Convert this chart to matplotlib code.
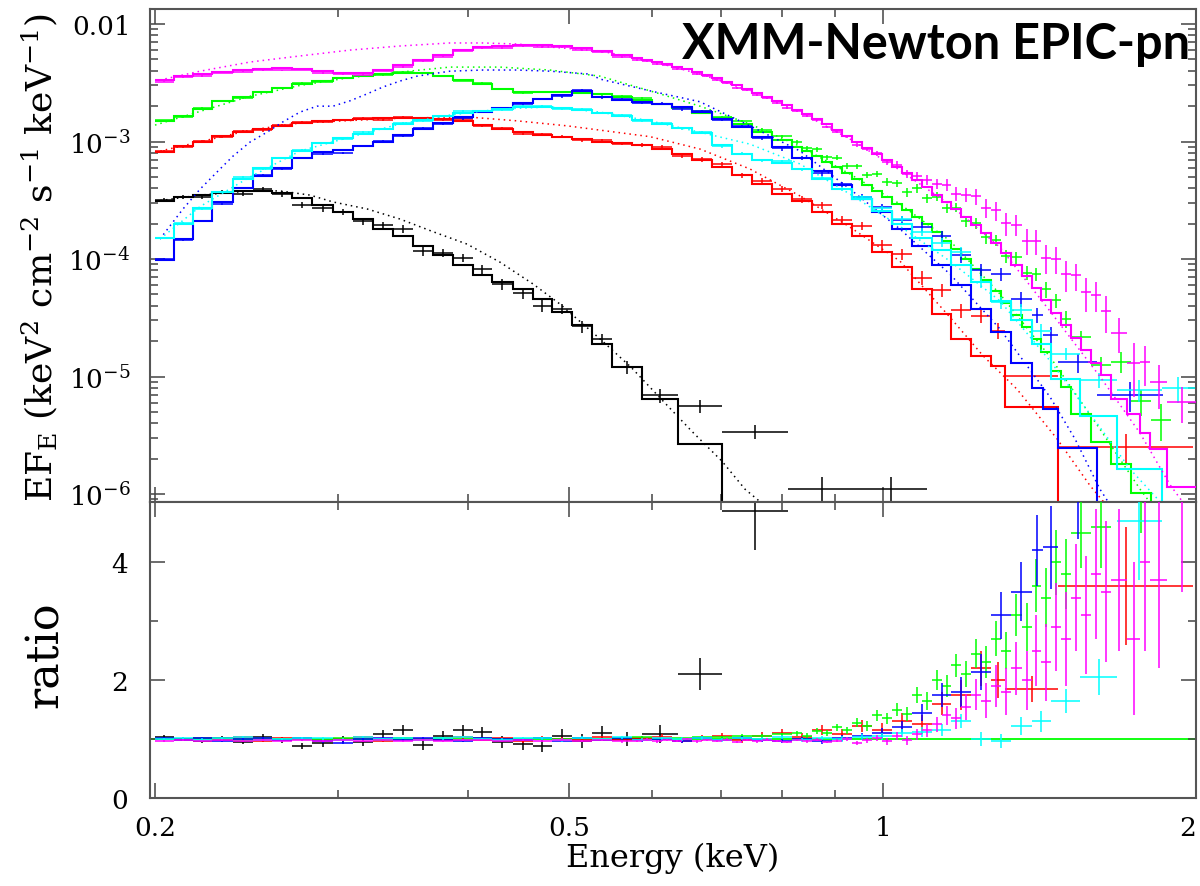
import numpy as np
import matplotlib
matplotlib.use("Agg")
import matplotlib.pyplot as plt
from matplotlib.ticker import FixedLocator, NullFormatter, FuncFormatter

plt.rcParams['font.family'] = ['DejaVu Serif']
plt.rcParams['mathtext.fontset'] = 'dejavuserif'

# ---------------- data ----------------
GRID_EDGES = [0.2000, 0.2084, 0.2173, 0.2269, 0.2374, 0.2484, 0.2593, 0.2707, 0.2833, 0.2965,
              0.3096, 0.3236, 0.3386, 0.3535, 0.3695, 0.3866, 0.4037, 0.4215, 0.4411, 0.4610,
              0.4813, 0.5031, 0.5258, 0.5496, 0.5744, 0.6004, 0.6276, 0.6561, 0.6857, 0.7167,
              0.7491, 0.7830, 0.8184, 0.8554, 0.8940, 0.9344, 0.9770, 1.0210, 1.0672, 1.1154,
              1.1644, 1.2171, 1.2721, 1.3296, 1.3900, 1.4512, 1.5168, 1.5854, 1.6570, 1.7320,
              1.8103, 1.8921, 1.9780]

# black
black_n_grid = 23
black_extra_edges = [0.587, 0.636, 0.701, 0.811, 0.941, 1.103]
black_model = [3.1e-4, 3.35e-4, 3.5e-4, 3.65e-4, 3.8e-4, 3.8e-4, 3.65e-4, 3.3e-4, 2.9e-4, 2.5e-4,
               2.2e-4, 1.8e-4, 1.57e-4, 1.3e-4, 1.08e-4, 8.9e-5, 7.3e-5, 6.4e-5, 5.56e-5, 4.57e-5,
               3.55e-5, 2.75e-5, 1.89e-5, 1.2e-5, 6.4e-6, 2.67e-6, 7.0e-7, 1.0e-7, 1.0e-7]
black_ratio = [1.03, 1.00, 0.97, 1.02, 0.95, 1.03, 0.98, 0.88, 0.93, 1.00,
               0.95, 1.08, 1.15, 0.90, 1.05, 1.15, 1.12, 0.95, 0.92, 0.88,
               1.06, 0.97, 1.10, 1.00, 1.08, 2.10, 4.86, 11.0, 11.0]
black_ratio_err = [0.04, 0.04, 0.04, 0.04, 0.04, 0.05, 0.05, 0.05, 0.06, 0.06,
                   0.07, 0.07, 0.08, 0.08, 0.08, 0.09, 0.09, 0.10, 0.10, 0.10,
                   0.11, 0.12, 0.12, 0.12, 0.15, 0.27, 0.65, 3.0, 3.0]
black_comp_energy = [0.200, 0.221, 0.2468, 0.2637, 0.2818, 0.2965, 0.3196, 0.3438, 0.3698, 0.3988,
                     0.429, 0.4615, 0.4898, 0.5352, 0.5732, 0.6126, 0.6561, 0.701, 0.7375, 0.7625, 0.79]
black_comp_flux = [3.1e-4, 3.5e-4, 3.8e-4, 3.8e-4, 3.5e-4, 3.06e-4, 2.67e-4, 2.19e-4, 1.71e-4, 1.34e-4,
                   9.4e-5, 6.13e-5, 4.14e-5, 2.09e-5, 1.2e-5, 6.44e-6, 3.4e-6, 1.9e-6, 1.1e-6, 8.6e-7, 6.5e-7]

# red
red_n_grid = 42
red_extra_edges = [1.311, 1.474, 1.987]
red_model = [8.2e-4, 9.1e-4, 1.0e-3, 1.11e-3, 1.2e-3, 1.28e-3, 1.36e-3, 1.44e-3, 1.5e-3, 1.52e-3,
             1.55e-3, 1.58e-3, 1.58e-3, 1.58e-3, 1.55e-3, 1.5e-3, 1.38e-3, 1.28e-3, 1.2e-3, 1.13e-3,
             1.1e-3, 1.05e-3, 1.0e-3, 9.7e-4, 9.3e-4, 8.63e-4, 7.8e-4, 6.9e-4, 6.1e-4, 5.2e-4,
             4.35e-4, 3.6e-4, 3.1e-4, 2.5e-4, 2.0e-4, 1.57e-4, 1.14e-4, 8.5e-5, 5.56e-5, 3.4e-5,
             2.09e-5, 1.5e-5, 1.23e-5, 5.5e-6, 7.0e-7]
red_ratio = [1.02, 0.98, 1.01, 0.99, 1.03, 0.97, 1.01, 1.02, 0.98, 1.00,
             1.03, 0.97, 1.02, 1.00, 0.98, 1.03, 0.99, 1.01, 0.97, 1.02,
             1.00, 0.98, 1.03, 0.99, 1.01, 1.04, 0.97, 1.02, 1.05, 0.99,
             1.06, 1.10, 1.04, 1.15, 1.08, 1.22, 1.15, 1.30, 1.25, 1.60,
             1.75, 2.20, 2.00, 1.85, 3.60]
red_ratio_err = [0.02, 0.02, 0.02, 0.02, 0.02, 0.02, 0.02, 0.02, 0.02, 0.02,
                 0.02, 0.02, 0.02, 0.02, 0.02, 0.03, 0.03, 0.03, 0.03, 0.03,
                 0.03, 0.03, 0.03, 0.03, 0.04, 0.04, 0.04, 0.05, 0.05, 0.05,
                 0.06, 0.07, 0.07, 0.08, 0.09, 0.10, 0.12, 0.14, 0.16, 0.20,
                 0.25, 0.30, 0.30, 0.22, 1.00]
red_comp_energy = [0.200, 0.2468, 0.2756, 0.3438, 0.3988, 0.4454, 0.4976, 0.5352, 0.5978, 0.6676,
                   0.7456, 0.833, 0.9302, 1.039, 1.1604, 1.2488, 1.346, 1.471, 1.582, 1.653]
red_comp_flux = [8.1e-4, 1.25e-3, 1.44e-3, 1.58e-3, 1.62e-3, 1.5e-3, 1.36e-3, 1.25e-3, 1.1e-3, 8.63e-4,
                 5.84e-4, 3.44e-4, 1.87e-4, 9.6e-5, 3.2e-5, 1.5e-5, 7.8e-6, 2.94e-6, 1.18e-6, 7.4e-7]

# green (finer bins between 0.82 and 1.52 keV)
green_n_grid = 32
green_extra_edges = [0.8367, 0.8554, 0.8745, 0.8940, 0.9140, 0.9344, 0.9555, 0.9770, 0.9988, 1.0210,
                     1.0438, 1.0672, 1.0910, 1.1154, 1.1396, 1.1644, 1.1904, 1.2171, 1.2443, 1.2721,
                     1.3006, 1.3296, 1.3595, 1.3900, 1.4203, 1.4512, 1.4837, 1.5168,
                     1.5854, 1.6570, 1.7320, 1.8103, 1.8921]
green_model = [1.5e-3, 1.64e-3, 1.89e-3, 2.2e-3, 2.4e-3, 2.63e-3, 2.85e-3, 3.09e-3, 3.27e-3, 3.45e-3,
               3.6e-3, 3.75e-3, 3.83e-3, 3.83e-3, 3.6e-3, 3.34e-3, 3.09e-3, 2.8e-3, 2.63e-3, 2.63e-3,
               2.63e-3, 2.58e-3, 2.54e-3, 2.4e-3, 2.26e-3, 2.09e-3, 1.93e-3, 1.75e-3, 1.58e-3, 1.41e-3,
               1.2e-3, 1.03e-3,
               8.98e-4, 8.30e-4, 7.53e-4, 6.69e-4, 6.07e-4, 5.40e-4, 4.80e-4, 4.26e-4, 3.79e-4, 3.37e-4,
               2.94e-4, 2.61e-4, 2.28e-4, 1.99e-4, 1.70e-4, 1.42e-4, 1.22e-4, 1.00e-4, 8.22e-5, 6.63e-5,
               5.34e-5, 4.22e-5, 3.34e-5, 2.64e-5, 2.08e-5, 1.62e-5, 1.11e-5, 8.14e-6,
               4.8e-6, 2.75e-6, 1.8e-6, 1.03e-6, 1.0e-7]
green_ratio = [1.01, 0.99, 1.02, 1.00, 0.98, 1.01, 1.00, 1.02, 0.99, 1.01,
               1.00, 0.98, 1.02, 1.00, 1.01, 0.99, 1.02, 1.00, 0.98, 1.01,
               1.00, 1.02, 0.99, 1.01, 1.03, 1.00, 1.02, 1.04, 1.03, 1.06,
               1.05, 1.08,
               1.10, 1.06, 1.14, 1.10, 1.20, 1.15, 1.28, 1.22, 1.40, 1.35,
               1.50, 1.42, 1.75, 1.65, 2.00, 1.90, 2.25, 2.10, 2.45, 2.30,
               2.70, 2.50, 3.10, 2.90, 3.60, 3.40, 4.00, 3.80,
               4.50, 4.60, 7.40, 6.00, 43.0]
green_ratio_err = [0.015, 0.015, 0.015, 0.015, 0.015, 0.015, 0.015, 0.015, 0.015, 0.015,
                   0.015, 0.015, 0.015, 0.015, 0.015, 0.015, 0.015, 0.015, 0.015, 0.015,
                   0.02, 0.02, 0.02, 0.02, 0.02, 0.02, 0.02, 0.02, 0.02, 0.02,
                   0.03, 0.03,
                   0.04, 0.04, 0.05, 0.05, 0.06, 0.06, 0.07, 0.08, 0.09, 0.10,
                   0.11, 0.12, 0.14, 0.15, 0.17, 0.18, 0.20, 0.22, 0.25, 0.27,
                   0.30, 0.32, 0.36, 0.40, 0.45, 0.50, 0.55, 0.60,
                   0.60, 0.70, 1.50, 1.50, 15.0]
green_comp_energy = [0.200, 0.2468, 0.2756, 0.3078, 0.3311, 0.3594, 0.384, 0.429, 0.479, 0.5352,
                     0.5978, 0.6676, 0.7456, 0.833, 0.9302, 1.039, 1.1604, 1.2962, 1.448, 1.617,
                     1.767, 1.827]
green_comp_flux = [1.38e-3, 2.43e-3, 3.0e-3, 3.5e-3, 3.75e-3, 4.06e-3, 4.3e-3, 4.3e-3, 4.06e-3, 3.6e-3,
                   2.7e-3, 2.0e-3, 1.41e-3, 9.1e-4, 5.29e-4, 2.94e-4, 1.43e-4, 5.04e-5, 1.47e-5, 3.57e-6,
                   1.1e-6, 7.4e-7]

# blue
blue_n_grid = 43
blue_extra_edges = [1.390, 1.426, 1.474, 1.607, 1.859]
blue_model = [9.8e-5, 1.48e-4, 2.1e-4, 3.05e-4, 4.0e-4, 5.1e-4, 6.0e-4, 7.2e-4, 8.1e-4, 8.5e-4,
              9.2e-4, 1.0e-3, 1.14e-3, 1.28e-3, 1.43e-3, 1.62e-3, 1.78e-3, 1.93e-3, 2.12e-3, 2.3e-3,
              2.5e-3, 2.7e-3, 2.4e-3, 2.26e-3, 2.18e-3, 2.09e-3, 1.97e-3, 1.78e-3, 1.55e-3, 1.33e-3,
              1.1e-3, 9.0e-4, 7.2e-4, 5.6e-4, 4.27e-4, 3.24e-4, 2.5e-4, 1.8e-4, 1.3e-4, 8.9e-5,
              6.0e-5, 3.75e-5, 2.4e-5, 1.3e-5, 8.0e-6, 5.3e-6, 2.45e-6, 1.0e-7]
blue_ratio = [1.02, 0.99, 1.01, 0.97, 1.00, 1.02, 0.98, 1.01, 0.96, 0.94,
              1.00, 1.02, 0.98, 1.01, 0.99, 0.97, 1.02, 1.00, 0.98, 1.01,
              0.97, 1.02, 0.99, 1.01, 0.98, 1.00, 0.96, 1.02, 0.99, 1.01,
              0.98, 0.97, 1.00, 0.96, 1.02, 1.05, 1.10, 1.20, 1.45, 1.75,
              1.80, 2.14, 3.10, 3.50, 4.20, 4.25, 5.40, 70.0]
blue_ratio_err = [0.02, 0.02, 0.02, 0.02, 0.02, 0.02, 0.02, 0.02, 0.02, 0.02,
                  0.02, 0.02, 0.02, 0.02, 0.02, 0.02, 0.02, 0.02, 0.02, 0.02,
                  0.025, 0.025, 0.025, 0.025, 0.025, 0.03, 0.03, 0.03, 0.03, 0.035,
                  0.035, 0.04, 0.04, 0.045, 0.05, 0.06, 0.08, 0.10, 0.15, 0.20,
                  0.25, 0.30, 0.40, 0.50, 0.60, 0.70, 1.00, 20.0]
blue_comp_energy = [0.2022, 0.2128, 0.221, 0.2294, 0.2376, 0.2468, 0.2562, 0.2654, 0.2756, 0.2862,
                    0.2965, 0.3078, 0.3196, 0.3311, 0.3438, 0.357, 0.384, 0.4133, 0.4454, 0.479,
                    0.5233, 0.5352, 0.5978, 0.6676, 0.7456, 0.833, 0.9302, 1.039, 1.1604, 1.2962,
                    1.448, 1.5304, 1.617, 1.6464]
blue_comp_flux = [1.48e-4, 2.67e-4, 3.94e-4, 5.5e-4, 7.5e-4, 9.9e-4, 1.2e-3, 1.47e-3, 1.78e-3, 2.0e-3,
                  2.0e-3, 2.22e-3, 2.54e-3, 2.91e-3, 3.27e-3, 3.6e-3, 3.97e-3, 4.06e-3, 4.06e-3, 3.97e-3,
                  3.75e-3, 3.4e-3, 2.7e-3, 2.18e-3, 1.36e-3, 8.3e-4, 3.94e-4, 1.8e-4, 7.45e-5, 2.54e-5,
                  6.7e-6, 2.94e-6, 1.1e-6, 8.6e-7]

# cyan
cyan_n_grid = 45
cyan_extra_edges = [1.548, 1.679, 1.855, 1.995]
cyan_model = [1.52e-4, 2.0e-4, 2.7e-4, 3.7e-4, 4.8e-4, 6.0e-4, 7.2e-4, 8.3e-4, 9.7e-4, 1.07e-3,
              1.16e-3, 1.28e-3, 1.41e-3, 1.52e-3, 1.64e-3, 1.75e-3, 1.82e-3, 1.89e-3, 1.97e-3, 1.97e-3,
              1.93e-3, 1.85e-3, 1.75e-3, 1.64e-3, 1.52e-3, 1.41e-3, 1.3e-3, 1.18e-3, 9.3e-4, 7.83e-4,
              6.9e-4, 6.6e-4, 5.84e-4, 4.8e-4, 3.94e-4, 3.24e-4, 2.57e-4, 1.99e-4, 1.52e-4, 1.2e-4,
              8.9e-5, 6.4e-5, 4.4e-5, 3.0e-5, 1.89e-5, 9.5e-6, 4.6e-6, 1.63e-6, 1.0e-7]
cyan_ratio = [1.00, 1.02, 0.99, 1.01, 1.03, 0.98, 1.00, 1.02, 1.01, 0.99,
              1.03, 1.00, 1.02, 0.98, 1.01, 1.03, 1.00, 0.99, 1.02, 1.01,
              0.98, 1.02, 1.00, 1.03, 0.99, 1.01, 1.00, 1.02, 0.98, 1.01,
              1.00, 1.03, 0.99, 1.02, 1.00, 1.04, 1.05, 1.10, 1.12, 1.15,
              1.30, 1.00, 0.97, 1.22, 1.30, 1.65, 2.05, 4.70, 80.0]
cyan_ratio_err = [0.02, 0.02, 0.02, 0.02, 0.02, 0.02, 0.02, 0.02, 0.02, 0.02,
                  0.02, 0.02, 0.02, 0.02, 0.02, 0.02, 0.02, 0.02, 0.02, 0.02,
                  0.025, 0.025, 0.025, 0.025, 0.025, 0.025, 0.03, 0.03, 0.03, 0.03,
                  0.03, 0.035, 0.035, 0.04, 0.045, 0.05, 0.06, 0.07, 0.08, 0.10,
                  0.12, 0.12, 0.12, 0.15, 0.18, 0.20, 0.30, 1.00, 20.0]
cyan_comp_energy = [0.2022, 0.221, 0.2468, 0.2756, 0.3078, 0.3438, 0.384, 0.429, 0.479, 0.5352,
                    0.5978, 0.6676, 0.7456, 0.833, 0.9302, 1.039, 1.1604, 1.2962, 1.448, 1.617,
                    1.7286, 1.847]
cyan_comp_flux = [1.48e-4, 2.8e-4, 5.0e-4, 8.3e-4, 1.09e-3, 1.41e-3, 1.68e-3, 1.89e-3, 1.97e-3, 1.78e-3,
                  1.5e-3, 1.2e-3, 9.5e-4, 6.44e-4, 3.57e-4, 1.9e-4, 9.6e-5, 4.4e-5, 1.36e-5, 3.7e-6,
                  1.63e-6, 8.6e-7]

# magenta (finer bins between 0.57 and 1.66 keV)
magenta_n_grid = 24
magenta_extra_edges = [0.5873, 0.6004, 0.6138, 0.6276, 0.6417, 0.6561, 0.6707, 0.6857, 0.7010, 0.7167,
                       0.7327, 0.7491, 0.7658, 0.7830, 0.8005, 0.8184, 0.8367, 0.8554, 0.8745, 0.8940,
                       0.9140, 0.9344, 0.9555, 0.9770, 0.9988, 1.0210, 1.0438, 1.0672, 1.0910, 1.1154,
                       1.1396, 1.1644, 1.1904, 1.2171, 1.2443, 1.2721, 1.3006, 1.3296, 1.3595, 1.3900,
                       1.4203, 1.4512, 1.4837, 1.5168, 1.5507, 1.5854, 1.6209, 1.6570,
                       1.717, 1.767, 1.807, 1.876, 2.0]
magenta_model = [3.34e-3, 3.6e-3, 3.75e-3, 3.9e-3, 4.06e-3, 4.14e-3, 4.2e-3, 4.14e-3, 3.97e-3, 3.83e-3,
                 3.83e-3, 4.06e-3, 4.48e-3, 4.94e-3, 5.45e-3, 6.0e-3, 6.37e-3, 6.5e-3, 6.6e-3, 6.6e-3,
                 6.5e-3, 6.25e-3, 5.9e-3, 5.45e-3,
                 5.14e-3, 4.94e-3, 4.75e-3, 4.57e-3, 4.31e-3, 4.14e-3, 3.90e-3, 3.68e-3, 3.47e-3, 3.21e-3,
                 3.03e-3, 2.80e-3, 2.59e-3, 2.39e-3, 2.21e-3, 2.04e-3, 1.85e-3, 1.71e-3, 1.55e-3, 1.41e-3,
                 1.25e-3, 1.11e-3, 9.90e-4, 8.81e-4, 7.83e-4, 6.96e-4, 6.07e-4, 5.40e-4, 4.70e-4, 4.10e-4,
                 3.50e-4, 3.05e-4, 2.66e-4, 2.28e-4, 1.95e-4, 1.66e-4, 1.37e-4, 1.12e-4, 8.89e-5, 7.16e-5,
                 5.66e-5, 4.48e-5, 3.47e-5, 2.74e-5, 2.13e-5, 1.68e-5, 1.30e-5, 1.03e-5,
                 6.4e-6, 4.8e-6, 3.3e-6, 2.42e-6, 1.15e-6]
magenta_ratio = [0.97, 0.98, 0.96, 0.99, 0.97, 0.98, 0.96, 0.99, 0.97, 0.98,
                 0.97, 0.99, 0.96, 0.98, 0.97, 0.99, 0.98, 0.96, 0.98, 0.97,
                 0.99, 0.97, 0.98, 0.96,
                 0.97, 0.99, 0.96, 0.98, 0.97, 1.00, 0.96, 0.98, 0.97, 0.99,
                 0.95, 0.98, 0.96, 0.99, 0.97, 0.95, 0.98, 0.96, 0.99, 0.95,
                 0.97, 1.00, 0.94, 0.98, 1.02, 0.96, 1.05, 0.98, 1.08, 1.15,
                 1.25, 1.40, 1.35, 1.55, 1.75, 1.65, 1.90, 1.80, 2.20, 2.00,
                 2.50, 2.30, 2.90, 2.70, 3.40, 3.10, 3.80, 3.50,
                 3.70, 2.70, 4.00, 3.70, 5.30]
magenta_ratio_err = [0.015, 0.015, 0.015, 0.015, 0.015, 0.015, 0.015, 0.015, 0.015, 0.015,
                     0.015, 0.015, 0.015, 0.015, 0.015, 0.015, 0.015, 0.015, 0.015, 0.015,
                     0.02, 0.02, 0.02, 0.02,
                     0.02, 0.02, 0.02, 0.02, 0.02, 0.02, 0.02, 0.02, 0.02, 0.02,
                     0.02, 0.02, 0.02, 0.02, 0.02, 0.02, 0.02, 0.02, 0.02, 0.02,
                     0.025, 0.03, 0.035, 0.04, 0.05, 0.06, 0.07, 0.08, 0.09, 0.11,
                     0.13, 0.16, 0.18, 0.22, 0.26, 0.30, 0.35, 0.40, 0.45, 0.50,
                     0.60, 0.65, 0.75, 0.80, 0.90, 1.00, 1.10, 1.20,
                     1.20, 1.30, 1.50, 1.50, 1.80]
magenta_comp_energy = [0.2022, 0.221, 0.2468, 0.2756, 0.3078, 0.3438, 0.384, 0.4133, 0.4454, 0.479,
                       0.5352, 0.5978, 0.6676, 0.7456, 0.833, 0.9302, 1.039, 1.1604, 1.2962, 1.448,
                       1.617, 1.767, 1.888, 2.0]
magenta_comp_flux = [3.34e-3, 3.97e-3, 4.75e-3, 5.35e-3, 6.0e-3, 6.5e-3, 6.9e-3, 6.9e-3, 6.76e-3, 6.37e-3,
                     5.9e-3, 4.87e-3, 3.75e-3, 2.71e-3, 1.78e-3, 1.05e-3, 5.7e-4, 2.9e-4, 1.26e-4, 3.6e-5,
                     1.0e-5, 3.3e-6, 1.2e-6, 6.0e-7]

X_TICKS = [0.2, 0.5, 1, 2]
X_TICK_LABELS = ['0.2', '0.5', '1', '2']
X_MINOR = [0.3, 0.4, 0.6, 0.7, 0.8, 0.9]
Y_TICKS = [1e-6, 1e-5, 1e-4, 1e-3, 1e-2]
Y_TICK_LABELS = [r'$10^{-6}$', r'$10^{-5}$', r'$10^{-4}$', r'$10^{-3}$', '0.01']
R_TICKS = [0, 2, 4]
R_MINOR = [1, 3]

# ---------------- figure ----------------
fig = plt.figure(figsize=(12, 8.87), dpi=100)
ax1 = fig.add_axes([0.125, 0.4329, 0.8717, 0.5558])
ax2 = fig.add_axes([0.125, 0.0992, 0.8717, 0.3337])

ax2.axhline(1.0, color='#00ff00', lw=1.3, zorder=1)

series = [
    ('#000000', black_n_grid, black_extra_edges, black_model, black_ratio, black_ratio_err,
     black_comp_energy, black_comp_flux),
    ('#ff0000', red_n_grid, red_extra_edges, red_model, red_ratio, red_ratio_err,
     red_comp_energy, red_comp_flux),
    ('#00ff00', green_n_grid, green_extra_edges, green_model, green_ratio, green_ratio_err,
     green_comp_energy, green_comp_flux),
    ('#0000ff', blue_n_grid, blue_extra_edges, blue_model, blue_ratio, blue_ratio_err,
     blue_comp_energy, blue_comp_flux),
    ('#00ffff', cyan_n_grid, cyan_extra_edges, cyan_model, cyan_ratio, cyan_ratio_err,
     cyan_comp_energy, cyan_comp_flux),
    ('#ff00ff', magenta_n_grid, magenta_extra_edges, magenta_model, magenta_ratio, magenta_ratio_err,
     magenta_comp_energy, magenta_comp_flux),
]

for i, (col, ngrid, extra, model, ratio, rerr, ce, cf) in enumerate(series):
    edges = np.array(GRID_EDGES[:ngrid + 1] + list(extra))
    model = np.array(model)
    ratio = np.array(ratio)
    rerr = np.array(rerr)
    lo, hi = edges[:-1], edges[1:]
    cen = np.sqrt(lo * hi)
    xerr = [cen - lo, hi - cen]
    data = model * ratio
    derr = model * rerr
    z = 2 + i
    ax1.errorbar(cen, data, xerr=xerr, yerr=derr, fmt='none', ecolor=col,
                 elinewidth=1.1, capsize=0, zorder=z)
    ax1.stairs(model, edges, baseline=None, color=col, lw=1.5, zorder=z)
    ax1.plot(ce, cf, color=col, lw=1.1, ls=(0, (1, 2.6)), zorder=z)
    ax2.errorbar(cen, ratio, xerr=xerr, yerr=rerr, fmt='none', ecolor=col,
                 elinewidth=1.1, capsize=0, zorder=z)

for ax in (ax1, ax2):
    ax.set_xscale('log')
    ax.set_xlim(0.1978, 2.0)
    ax.xaxis.set_major_locator(FixedLocator(X_TICKS))
    ax.xaxis.set_minor_locator(FixedLocator(X_MINOR))
    ax.xaxis.set_minor_formatter(NullFormatter())
    ax.tick_params(which='both', direction='in', top=True, right=True,
                   color='#444444', width=1.1, labelsize=19)
    ax.tick_params(which='major', length=10.5)
    ax.tick_params(which='minor', length=5.5)
    for s in ax.spines.values():
        s.set_color('#555555')
        s.set_linewidth(1.5)

ax1.set_yscale('log')
ax1.set_ylim(8.55e-7, 0.01342)
ax1.yaxis.set_major_locator(FixedLocator(Y_TICKS))
ax1.yaxis.set_major_formatter(FuncFormatter(lambda v, p: dict(zip(Y_TICKS, Y_TICK_LABELS)).get(v, '')))
minors = [k * 10.0 ** n for n in range(-7, -1) for k in range(2, 10)]
ax1.yaxis.set_minor_locator(FixedLocator(minors))
ax1.yaxis.set_minor_formatter(NullFormatter())
ax1.tick_params(labelbottom=False)
ax1.tick_params(axis='y', pad=14)

ax2.set_ylim(0, 5.02)
ax2.yaxis.set_major_locator(FixedLocator(R_TICKS))
ax2.yaxis.set_minor_locator(FixedLocator(R_MINOR))
ax2.xaxis.set_major_formatter(FuncFormatter(lambda v, p: dict(zip(X_TICKS, X_TICK_LABELS)).get(round(v, 3), '')))
ax2.tick_params(axis='y', pad=16)
ax2.tick_params(axis='x', pad=12)
fig.canvas.draw()
for lab in ax2.get_xticklabels():
    if lab.get_text() == '2':
        lab.set_horizontalalignment('right')

fig.text(40 / 1200, 1 - 258 / 887,
         r'EF$_{\mathrm{E}}$ (keV$^{2}$ cm$^{-2}$ s$^{-1}$ keV$^{-1}$)',
         rotation=90, ha='center', va='center', fontsize=26)
fig.text(45 / 1200, 1 - 655 / 887, 'ratio', rotation=90, ha='center', va='center', fontsize=32)
fig.text(673 / 1200, 1 - 858 / 887, 'Energy (keV)', ha='center', va='center', fontsize=23)
fig.text(1190 / 1200, 1 - 22 / 887, 'XMM-Newton EPIC-pn', family=['Lato', 'DejaVu Sans'],
         fontweight='bold', fontsize=35, ha='right', va='top')

fig.savefig('out.png', dpi=100)
